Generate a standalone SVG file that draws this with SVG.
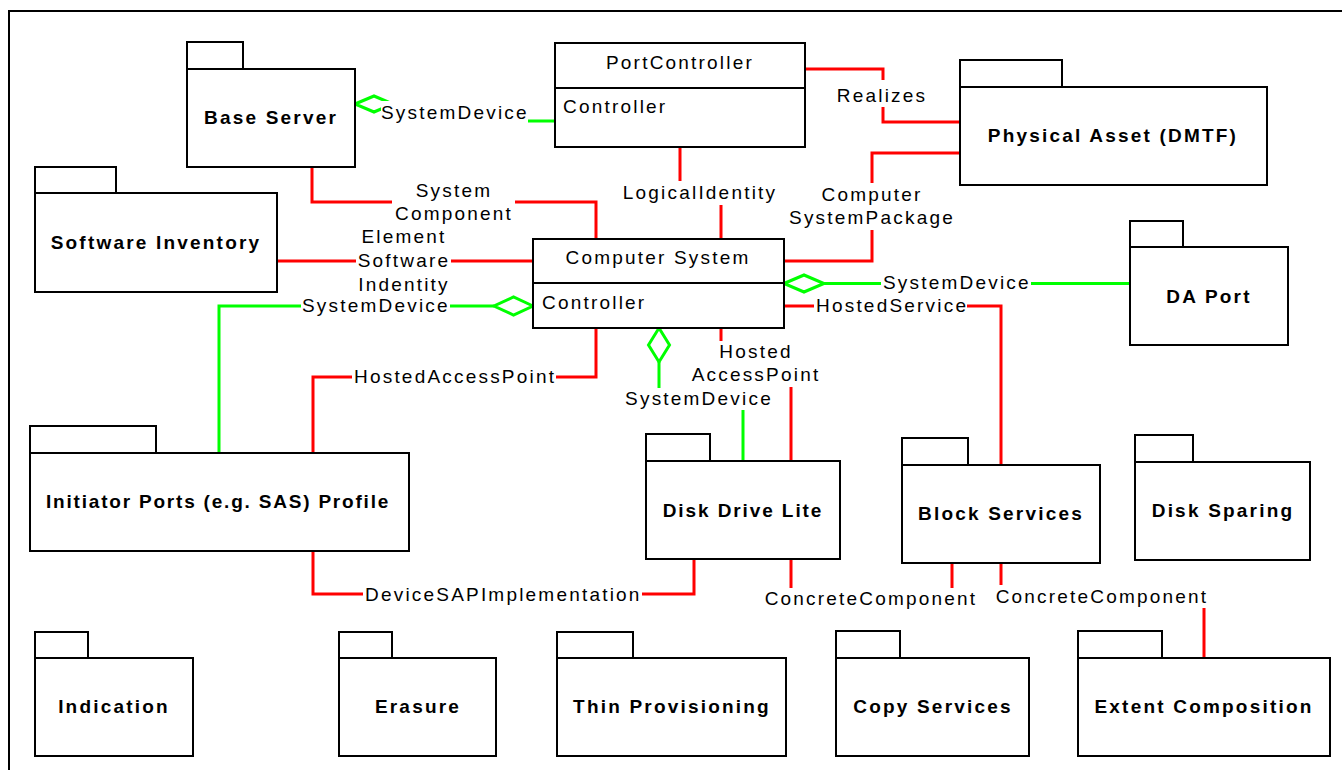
<svg xmlns="http://www.w3.org/2000/svg" width="1342" height="770" viewBox="0 0 1342 770">
<style>
.box{fill:#fff;stroke:#000;stroke-width:2}
.t{font-family:"Liberation Sans",Arial,sans-serif;font-size:19px;letter-spacing:2.2px;fill:#000}
.b{font-weight:bold}
.m{text-anchor:middle}
.r{stroke:#f00;stroke-width:3;fill:none}
.g{stroke:#0f0;stroke-width:3;fill:none}
.dia{stroke:#0f0;stroke-width:3;fill:#fff}
.bg{fill:#fff}
</style>
<rect width="1342" height="770" fill="#fff"/>
<path d="M9,770 V11 H1342" fill="none" stroke="#000" stroke-width="2"/>

<g id="connectors">
  <!-- Base Server - PortController SystemDevice -->
  <path class="g" d="M393,104 H455 V121 H555"/>
  <polygon class="dia" points="355,104 374,96 393,104 374,112"/>
  <rect class="bg" x="381" y="101" width="147" height="23"/>
  <text class="t" x="381" y="119">SystemDevice</text>

  <!-- LogicalIdentity -->
  <path class="r" d="M680,147 V192 H721 V239"/>
  <rect class="bg" x="624" y="181" width="152" height="24"/>
  <text class="t m" x="700" y="199">LogicalIdentity</text>

  <!-- Realizes -->
  <path class="r" d="M805,69 H883 V122 H960"/>
  <rect class="bg" x="836" y="80" width="92" height="27"/>
  <text class="t m" x="882" y="102">Realizes</text>

  <!-- ComputerSystemPackage -->
  <path class="r" d="M784,261 H872 V153 H960"/>
  <rect class="bg" x="787" y="183" width="169" height="47"/>
  <text class="t m" x="872" y="201">Computer</text>
  <text class="t m" x="872" y="224">SystemPackage</text>

  <!-- SystemComponent -->
  <path class="r" d="M312,167 V202 H596 V239"/>
  <rect class="bg" x="392" y="181" width="123" height="45"/>
  <text class="t m" x="454" y="197">System</text>
  <text class="t m" x="454" y="220">Component</text>

  <!-- ElementSoftwareIdentity -->
  <path class="r" d="M277,261 H533"/>
  <rect class="bg" x="356" y="229" width="95" height="66"/>
  <text class="t m" x="404" y="243">Element</text>
  <text class="t m" x="404" y="267">Software</text>
  <text class="t m" x="404" y="291">Indentity</text>

  <!-- Initiator - CS SystemDevice -->
  <path class="g" d="M494,306 H219 V453"/>
  <polygon class="dia" points="533,306 513.5,297 494,306 513.5,315"/>
  <rect class="bg" x="301" y="296" width="149" height="21"/>
  <text class="t" x="302" y="312">SystemDevice</text>

  <!-- HostedAccessPoint Initiator - CS -->
  <path class="r" d="M313,453 V377 H596 V328"/>
  <rect class="bg" x="352" y="366" width="204" height="22"/>
  <text class="t" x="354" y="383">HostedAccessPoint</text>

  <!-- DeviceSAPImplementation -->
  <path class="r" d="M313,551 V594 H694 V559"/>
  <rect class="bg" x="363" y="585" width="279" height="22"/>
  <text class="t" x="365" y="601">DeviceSAPImplementation</text>

  <!-- CS - Disk Drive SystemDevice -->
  <path class="g" d="M659,362 V398 H743 V461"/>
  <polygon class="dia" points="659,328 669.5,345 659,362 648.5,345"/>
  <rect class="bg" x="624" y="388" width="150" height="22"/>
  <text class="t m" x="699" y="405">SystemDevice</text>

  <!-- CS - Disk Drive HostedAccessPoint -->
  <path class="r" d="M721,328 V362 H791 V461"/>
  <rect class="bg" x="690" y="341" width="131" height="46"/>
  <text class="t m" x="756" y="358">Hosted</text>
  <text class="t m" x="756" y="381">AccessPoint</text>

  <!-- CS - DA Port SystemDevice -->
  <path class="g" d="M824,283.5 H1130"/>
  <polygon class="dia" points="784,283.5 804,275 824,283.5 804,292"/>
  <rect class="bg" x="881" y="272" width="150" height="21"/>
  <text class="t" x="883" y="289">SystemDevice</text>

  <!-- HostedService -->
  <path class="r" d="M784,306 H1001 V465"/>
  <rect class="bg" x="814" y="295" width="153" height="21"/>
  <text class="t" x="816" y="312">HostedService</text>

  <!-- ConcreteComponent DD - BS -->
  <path class="r" d="M791,559 V597 H952 V563"/>
  <rect class="bg" x="762" y="588" width="218" height="22"/>
  <text class="t m" x="871" y="605">ConcreteComponent</text>

  <!-- ConcreteComponent BS - Extent -->
  <path class="r" d="M1001,563 V596 H1204 V658"/>
  <rect class="bg" x="993" y="585" width="217" height="23"/>
  <text class="t m" x="1102" y="603">ConcreteComponent</text>
</g>

<g id="base-server">
  <rect class="box" x="187" y="42" width="56" height="27"/>
  <rect class="box" x="187" y="69" width="168" height="98"/>
  <text class="t b m" x="271" y="124">Base Server</text>
</g>
<g id="software-inventory">
  <rect class="box" x="35" y="167" width="81" height="26"/>
  <rect class="box" x="35" y="193" width="242" height="99"/>
  <text class="t b m" x="156" y="249">Software Inventory</text>
</g>
<g id="port-controller">
  <rect class="box" x="555" y="43" width="250" height="104"/>
  <line x1="555" y1="88" x2="805" y2="88" stroke="#000" stroke-width="2"/>
  <text class="t m" x="680" y="69">PortController</text>
  <text class="t" x="563" y="113">Controller</text>
</g>
<g id="physical-asset">
  <rect class="box" x="960" y="60" width="102" height="27"/>
  <rect class="box" x="960" y="87" width="307" height="98"/>
  <text class="t b m" x="1113" y="142">Physical Asset (DMTF)</text>
</g>
<g id="computer-system">
  <rect class="box" x="533" y="239" width="251" height="89"/>
  <line x1="533" y1="283" x2="784" y2="283" stroke="#000" stroke-width="2"/>
  <text class="t m" x="658" y="264">Computer System</text>
  <text class="t" x="542" y="309">Controller</text>
</g>
<g id="da-port">
  <rect class="box" x="1130" y="221" width="53" height="26"/>
  <rect class="box" x="1130" y="247" width="158" height="98"/>
  <text class="t b m" x="1209" y="303">DA Port</text>
</g>
<g id="initiator-ports">
  <rect class="box" x="30" y="426" width="126" height="27"/>
  <rect class="box" x="30" y="453" width="379" height="98"/>
  <text class="t b" x="46" y="508" style="letter-spacing:1.8px">Initiator Ports (e.g. SAS) Profile</text>
</g>
<g id="disk-drive-lite">
  <rect class="box" x="646" y="434" width="64" height="27"/>
  <rect class="box" x="646" y="461" width="194" height="98"/>
  <text class="t b m" x="743" y="517" style="letter-spacing:1.9px">Disk Drive Lite</text>
</g>
<g id="block-services">
  <rect class="box" x="902" y="438" width="66" height="27"/>
  <rect class="box" x="902" y="465" width="198" height="98"/>
  <text class="t b m" x="1001" y="520">Block Services</text>
</g>
<g id="disk-sparing">
  <rect class="box" x="1135" y="435" width="58" height="27"/>
  <rect class="box" x="1135" y="462" width="175" height="98"/>
  <text class="t b m" x="1223" y="517">Disk Sparing</text>
</g>
<g id="indication">
  <rect class="box" x="35" y="632" width="53" height="26"/>
  <rect class="box" x="35" y="658" width="158" height="98"/>
  <text class="t b m" x="114" y="713">Indication</text>
</g>
<g id="erasure">
  <rect class="box" x="339" y="632" width="53" height="26"/>
  <rect class="box" x="339" y="658" width="157" height="98"/>
  <text class="t b m" x="418" y="713">Erasure</text>
</g>
<g id="thin-provisioning">
  <rect class="box" x="557" y="632" width="76" height="26"/>
  <rect class="box" x="557" y="658" width="229" height="98"/>
  <text class="t b m" x="672" y="713">Thin Provisioning</text>
</g>
<g id="copy-services">
  <rect class="box" x="836" y="631" width="64" height="27"/>
  <rect class="box" x="836" y="658" width="193" height="98"/>
  <text class="t b m" x="933" y="713">Copy Services</text>
</g>
<g id="extent-composition">
  <rect class="box" x="1078" y="631" width="84" height="27"/>
  <rect class="box" x="1078" y="658" width="252" height="98"/>
  <text class="t b m" x="1204" y="713">Extent Composition</text>
</g>
</svg>
